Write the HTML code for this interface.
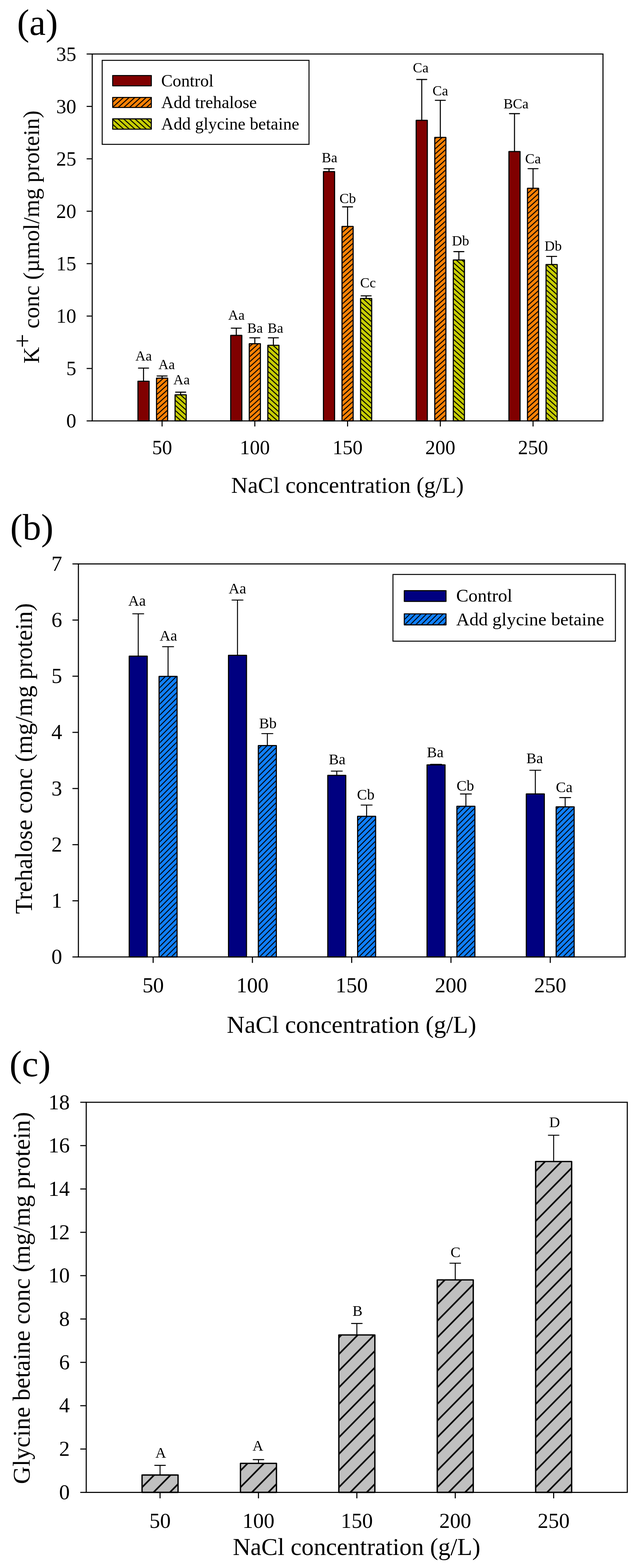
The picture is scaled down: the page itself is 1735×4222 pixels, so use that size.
<!DOCTYPE html>
<html lang="en">
<head>
<meta charset="utf-8">
<title>Figure: K+, trehalose and glycine betaine concentrations versus NaCl concentration</title>
<style>
html,body{margin:0;padding:0;background:#fff;}
body{width:1735px;height:4222px;overflow:hidden;}
svg{display:block;}
svg text{font-family:"Liberation Serif", "Times New Roman", serif;fill:#000;}
</style>
</head>
<body>
<svg width="1735" height="4222" viewBox="0 0 1735 4222">
<defs>
<pattern id="hO" patternUnits="userSpaceOnUse" x="13.34" y="0" width="15.28" height="13.75"><rect x="0" y="0" width="15.28" height="13.75" fill="#FF8205"/><path d="M-15.28,13.75 L15.28,-13.75 M0,13.75 L15.28,0 M0,27.5 L30.56,0" stroke="#000" stroke-width="2.7" fill="none" stroke-linecap="square"/></pattern>
<pattern id="hG" patternUnits="userSpaceOnUse" x="7.84" y="0" width="15.28" height="13.75"><rect x="0" y="0" width="15.28" height="13.75" fill="#C8CE04"/><path d="M-15.28,-13.75 L15.28,13.75 M0,-13.75 L30.56,13.75 M-15.28,0 L15.28,27.5" stroke="#000" stroke-width="2.7" fill="none" stroke-linecap="square"/></pattern>
<pattern id="hB" patternUnits="userSpaceOnUse" x="12" y="0" width="14.86" height="14.83"><rect x="0" y="0" width="14.86" height="14.83" fill="#1080FF"/><path d="M-14.86,14.83 L14.86,-14.83 M0,14.83 L14.86,0 M0,29.66 L29.72,0" stroke="#000" stroke-width="2.5" fill="none" stroke-linecap="square"/></pattern>
<pattern id="hK" patternUnits="userSpaceOnUse" x="2.4" y="0" width="44.18" height="44.8"><rect x="0" y="0" width="44.18" height="44.8" fill="#C0C0C0"/><path d="M-44.18,44.8 L44.18,-44.8 M0,44.8 L44.18,0 M0,89.6 L88.37,0" stroke="#000" stroke-width="4.3" fill="none" stroke-linecap="square"/></pattern>
</defs>
<rect x="0" y="0" width="1735" height="4222" fill="#fff"/>
<line x1="386.7" y1="1026.5" x2="386.7" y2="991.2" stroke="#000" stroke-width="2.8" stroke-linecap="butt"/>
<line x1="373.2" y1="991.2" x2="400.2" y2="991.2" stroke="#000" stroke-width="2.8" stroke-linecap="round"/>
<rect x="371.7" y="1026.5" width="30" height="106.8" fill="#800000" stroke="#000" stroke-width="3" stroke-linejoin="round"/>
<line x1="436.7" y1="1018.2" x2="436.7" y2="1012.4" stroke="#000" stroke-width="2.8" stroke-linecap="butt"/>
<line x1="423.2" y1="1012.4" x2="450.2" y2="1012.4" stroke="#000" stroke-width="2.8" stroke-linecap="round"/>
<rect x="421.7" y="1018.2" width="30" height="115.1" fill="url(#hO)" stroke="#000" stroke-width="3" stroke-linejoin="round"/>
<line x1="486.7" y1="1063" x2="486.7" y2="1056" stroke="#000" stroke-width="2.8" stroke-linecap="butt"/>
<line x1="473.2" y1="1056" x2="500.2" y2="1056" stroke="#000" stroke-width="2.8" stroke-linecap="round"/>
<rect x="471.7" y="1063" width="30" height="70.3" fill="url(#hG)" stroke="#000" stroke-width="3" stroke-linejoin="round"/>
<line x1="636.55" y1="903.1" x2="636.55" y2="883.6" stroke="#000" stroke-width="2.8" stroke-linecap="butt"/>
<line x1="623.05" y1="883.6" x2="650.05" y2="883.6" stroke="#000" stroke-width="2.8" stroke-linecap="round"/>
<rect x="621.55" y="903.1" width="30" height="230.2" fill="#800000" stroke="#000" stroke-width="3" stroke-linejoin="round"/>
<line x1="686.55" y1="925.5" x2="686.55" y2="909.7" stroke="#000" stroke-width="2.8" stroke-linecap="butt"/>
<line x1="673.05" y1="909.7" x2="700.05" y2="909.7" stroke="#000" stroke-width="2.8" stroke-linecap="round"/>
<rect x="671.55" y="925.5" width="30" height="207.8" fill="url(#hO)" stroke="#000" stroke-width="3" stroke-linejoin="round"/>
<line x1="736.55" y1="929.7" x2="736.55" y2="909.7" stroke="#000" stroke-width="2.8" stroke-linecap="butt"/>
<line x1="723.05" y1="909.7" x2="750.05" y2="909.7" stroke="#000" stroke-width="2.8" stroke-linecap="round"/>
<rect x="721.55" y="929.7" width="30" height="203.6" fill="url(#hG)" stroke="#000" stroke-width="3" stroke-linejoin="round"/>
<line x1="886.4" y1="461.9" x2="886.4" y2="454.4" stroke="#000" stroke-width="2.8" stroke-linecap="butt"/>
<line x1="872.9" y1="454.4" x2="899.9" y2="454.4" stroke="#000" stroke-width="2.8" stroke-linecap="round"/>
<rect x="871.4" y="461.9" width="30" height="671.4" fill="#800000" stroke="#000" stroke-width="3" stroke-linejoin="round"/>
<line x1="936.4" y1="609.8" x2="936.4" y2="557" stroke="#000" stroke-width="2.8" stroke-linecap="butt"/>
<line x1="922.9" y1="557" x2="949.9" y2="557" stroke="#000" stroke-width="2.8" stroke-linecap="round"/>
<rect x="921.4" y="609.8" width="30" height="523.5" fill="url(#hO)" stroke="#000" stroke-width="3" stroke-linejoin="round"/>
<line x1="986.4" y1="803.8" x2="986.4" y2="796.7" stroke="#000" stroke-width="2.8" stroke-linecap="butt"/>
<line x1="972.9" y1="796.7" x2="999.9" y2="796.7" stroke="#000" stroke-width="2.8" stroke-linecap="round"/>
<rect x="971.4" y="803.8" width="30" height="329.5" fill="url(#hG)" stroke="#000" stroke-width="3" stroke-linejoin="round"/>
<line x1="1136.25" y1="324" x2="1136.25" y2="214" stroke="#000" stroke-width="2.8" stroke-linecap="butt"/>
<line x1="1122.75" y1="214" x2="1149.75" y2="214" stroke="#000" stroke-width="2.8" stroke-linecap="round"/>
<rect x="1121.25" y="324" width="30" height="809.3" fill="#800000" stroke="#000" stroke-width="3" stroke-linejoin="round"/>
<line x1="1186.25" y1="370" x2="1186.25" y2="270.1" stroke="#000" stroke-width="2.8" stroke-linecap="butt"/>
<line x1="1172.75" y1="270.1" x2="1199.75" y2="270.1" stroke="#000" stroke-width="2.8" stroke-linecap="round"/>
<rect x="1171.25" y="370" width="30" height="763.3" fill="url(#hO)" stroke="#000" stroke-width="3" stroke-linejoin="round"/>
<line x1="1236.25" y1="699.9" x2="1236.25" y2="677.5" stroke="#000" stroke-width="2.8" stroke-linecap="butt"/>
<line x1="1222.75" y1="677.5" x2="1249.75" y2="677.5" stroke="#000" stroke-width="2.8" stroke-linecap="round"/>
<rect x="1221.25" y="699.9" width="30" height="433.4" fill="url(#hG)" stroke="#000" stroke-width="3" stroke-linejoin="round"/>
<line x1="1386.1" y1="408.1" x2="1386.1" y2="306" stroke="#000" stroke-width="2.8" stroke-linecap="butt"/>
<line x1="1372.6" y1="306" x2="1399.6" y2="306" stroke="#000" stroke-width="2.8" stroke-linecap="round"/>
<rect x="1371.1" y="408.1" width="30" height="725.2" fill="#800000" stroke="#000" stroke-width="3" stroke-linejoin="round"/>
<line x1="1436.1" y1="507" x2="1436.1" y2="454.1" stroke="#000" stroke-width="2.8" stroke-linecap="butt"/>
<line x1="1422.6" y1="454.1" x2="1449.6" y2="454.1" stroke="#000" stroke-width="2.8" stroke-linecap="round"/>
<rect x="1421.1" y="507" width="30" height="626.3" fill="url(#hO)" stroke="#000" stroke-width="3" stroke-linejoin="round"/>
<line x1="1486.1" y1="712.2" x2="1486.1" y2="690.4" stroke="#000" stroke-width="2.8" stroke-linecap="butt"/>
<line x1="1472.6" y1="690.4" x2="1499.6" y2="690.4" stroke="#000" stroke-width="2.8" stroke-linecap="round"/>
<rect x="1471.1" y="712.2" width="30" height="421.1" fill="url(#hG)" stroke="#000" stroke-width="3" stroke-linejoin="round"/>
<rect x="248.4" y="145.4" width="1376.1" height="987.9" fill="none" stroke="#000" stroke-width="2.8" stroke-linejoin="miter"/>
<line x1="233.4" y1="1133.3" x2="248.4" y2="1133.3" stroke="#000" stroke-width="2.8" stroke-linecap="butt"/>
<text x="205.5" y="1151.4" font-size="54" text-anchor="end">0</text>
<line x1="233.4" y1="992.17" x2="248.4" y2="992.17" stroke="#000" stroke-width="2.8" stroke-linecap="butt"/>
<text x="205.5" y="1010.27" font-size="54" text-anchor="end">5</text>
<line x1="233.4" y1="851.04" x2="248.4" y2="851.04" stroke="#000" stroke-width="2.8" stroke-linecap="butt"/>
<text x="205.5" y="869.14" font-size="54" text-anchor="end">10</text>
<line x1="233.4" y1="709.91" x2="248.4" y2="709.91" stroke="#000" stroke-width="2.8" stroke-linecap="butt"/>
<text x="205.5" y="728.01" font-size="54" text-anchor="end">15</text>
<line x1="233.4" y1="568.79" x2="248.4" y2="568.79" stroke="#000" stroke-width="2.8" stroke-linecap="butt"/>
<text x="205.5" y="586.89" font-size="54" text-anchor="end">20</text>
<line x1="233.4" y1="427.66" x2="248.4" y2="427.66" stroke="#000" stroke-width="2.8" stroke-linecap="butt"/>
<text x="205.5" y="445.76" font-size="54" text-anchor="end">25</text>
<line x1="233.4" y1="286.53" x2="248.4" y2="286.53" stroke="#000" stroke-width="2.8" stroke-linecap="butt"/>
<text x="205.5" y="304.63" font-size="54" text-anchor="end">30</text>
<line x1="233.4" y1="145.4" x2="248.4" y2="145.4" stroke="#000" stroke-width="2.8" stroke-linecap="butt"/>
<text x="205.5" y="163.5" font-size="54" text-anchor="end">35</text>
<line x1="436.7" y1="1133.3" x2="436.7" y2="1148.3" stroke="#000" stroke-width="2.8" stroke-linecap="butt"/>
<text x="436.7" y="1222.8" font-size="54" text-anchor="middle">50</text>
<line x1="686.55" y1="1133.3" x2="686.55" y2="1148.3" stroke="#000" stroke-width="2.8" stroke-linecap="butt"/>
<text x="686.55" y="1222.8" font-size="54" text-anchor="middle">100</text>
<line x1="936.4" y1="1133.3" x2="936.4" y2="1148.3" stroke="#000" stroke-width="2.8" stroke-linecap="butt"/>
<text x="936.4" y="1222.8" font-size="54" text-anchor="middle">150</text>
<line x1="1186.25" y1="1133.3" x2="1186.25" y2="1148.3" stroke="#000" stroke-width="2.8" stroke-linecap="butt"/>
<text x="1186.25" y="1222.8" font-size="54" text-anchor="middle">200</text>
<line x1="1436.1" y1="1133.3" x2="1436.1" y2="1148.3" stroke="#000" stroke-width="2.8" stroke-linecap="butt"/>
<text x="1436.1" y="1222.8" font-size="54" text-anchor="middle">250</text>
<text x="387" y="971.2" font-size="38" text-anchor="middle">Aa</text>
<text x="448.9" y="993.5" font-size="38" text-anchor="middle">Aa</text>
<text x="489.2" y="1035" font-size="38" text-anchor="middle">Aa</text>
<text x="637" y="860.7" font-size="38" text-anchor="middle">Aa</text>
<text x="687" y="895.6" font-size="38" text-anchor="middle">Ba</text>
<text x="742" y="895.6" font-size="38" text-anchor="middle">Ba</text>
<text x="887.8" y="436.9" font-size="38" text-anchor="middle">Ba</text>
<text x="936.8" y="547" font-size="38" text-anchor="middle">Cb</text>
<text x="991.4" y="773.5" font-size="38" text-anchor="middle">Cc</text>
<text x="1133.4" y="195" font-size="38" text-anchor="middle">Ca</text>
<text x="1186.3" y="256.9" font-size="38" text-anchor="middle">Ca</text>
<text x="1240.7" y="660.5" font-size="38" text-anchor="middle">Db</text>
<text x="1390.2" y="291.8" font-size="38" text-anchor="middle">BCa</text>
<text x="1435.9" y="439.8" font-size="38" text-anchor="middle">Ca</text>
<text x="1490.2" y="674.8" font-size="38" text-anchor="middle">Db</text>
<text x="936" y="1326.5" font-size="62" text-anchor="middle">NaCl concentration (g/L)</text>
<text x="105.3" y="638.2" font-size="61.3" text-anchor="middle" transform="rotate(-90 105.3 638.2)">K<tspan dy="-22.2" dx="-2.4" font-size="67">+</tspan><tspan dy="22.2" dx="-0.8"> conc (µmol/mg protein)</tspan></text>
<text x="46" y="94.4" font-size="99" text-anchor="start">(a)</text>
<rect x="275.3" y="162.5" width="557.2" height="226.2" fill="#fff" stroke="#000" stroke-width="2.6" stroke-linejoin="miter"/>
<rect x="303.6" y="203.3" width="104.1" height="27.8" fill="#800000" stroke="#000" stroke-width="2.8" stroke-linejoin="round"/>
<text x="434.3" y="233" font-size="46.2" text-anchor="start">Control</text>
<rect x="303.6" y="262.3" width="104.1" height="27" fill="url(#hO)" stroke="#000" stroke-width="2.8" stroke-linejoin="round"/>
<text x="434.3" y="290.8" font-size="46.2" text-anchor="start">Add trehalose</text>
<rect x="303.6" y="320" width="104.1" height="27.8" fill="url(#hG)" stroke="#000" stroke-width="2.8" stroke-linejoin="round"/>
<text x="434.3" y="349.1" font-size="46.2" text-anchor="start">Add glycine betaine</text>
<line x1="372.4" y1="1766.7" x2="372.4" y2="1652.7" stroke="#000" stroke-width="2.6" stroke-linecap="butt"/>
<line x1="357.65" y1="1652.7" x2="387.15" y2="1652.7" stroke="#000" stroke-width="2.6" stroke-linecap="round"/>
<rect x="348.15" y="1766.7" width="48.5" height="810" fill="#000080" stroke="#000" stroke-width="3" stroke-linejoin="round"/>
<line x1="452.8" y1="1821.2" x2="452.8" y2="1741.3" stroke="#000" stroke-width="2.6" stroke-linecap="butt"/>
<line x1="438.05" y1="1741.3" x2="467.55" y2="1741.3" stroke="#000" stroke-width="2.6" stroke-linecap="round"/>
<rect x="428.55" y="1821.2" width="48.5" height="755.5" fill="url(#hB)" stroke="#000" stroke-width="3" stroke-linejoin="round"/>
<line x1="639.85" y1="1764.4" x2="639.85" y2="1615.7" stroke="#000" stroke-width="2.6" stroke-linecap="butt"/>
<line x1="625.1" y1="1615.7" x2="654.6" y2="1615.7" stroke="#000" stroke-width="2.6" stroke-linecap="round"/>
<rect x="615.6" y="1764.4" width="48.5" height="812.3" fill="#000080" stroke="#000" stroke-width="3" stroke-linejoin="round"/>
<line x1="720.25" y1="2007.6" x2="720.25" y2="1975.2" stroke="#000" stroke-width="2.6" stroke-linecap="butt"/>
<line x1="705.5" y1="1975.2" x2="735" y2="1975.2" stroke="#000" stroke-width="2.6" stroke-linecap="round"/>
<rect x="696" y="2007.6" width="48.5" height="569.1" fill="url(#hB)" stroke="#000" stroke-width="3" stroke-linejoin="round"/>
<line x1="907.3" y1="2087.8" x2="907.3" y2="2076.2" stroke="#000" stroke-width="2.6" stroke-linecap="butt"/>
<line x1="892.55" y1="2076.2" x2="922.05" y2="2076.2" stroke="#000" stroke-width="2.6" stroke-linecap="round"/>
<rect x="883.05" y="2087.8" width="48.5" height="488.9" fill="#000080" stroke="#000" stroke-width="3" stroke-linejoin="round"/>
<line x1="987.7" y1="2197.9" x2="987.7" y2="2167.7" stroke="#000" stroke-width="2.6" stroke-linecap="butt"/>
<line x1="972.95" y1="2167.7" x2="1002.45" y2="2167.7" stroke="#000" stroke-width="2.6" stroke-linecap="round"/>
<rect x="963.45" y="2197.9" width="48.5" height="378.8" fill="url(#hB)" stroke="#000" stroke-width="3" stroke-linejoin="round"/>
<line x1="1174.75" y1="2059.5" x2="1174.75" y2="2058" stroke="#000" stroke-width="2.6" stroke-linecap="butt"/>
<line x1="1160" y1="2058" x2="1189.5" y2="2058" stroke="#000" stroke-width="2.6" stroke-linecap="round"/>
<rect x="1150.5" y="2059.5" width="48.5" height="517.2" fill="#000080" stroke="#000" stroke-width="3" stroke-linejoin="round"/>
<line x1="1255.15" y1="2171.1" x2="1255.15" y2="2137.9" stroke="#000" stroke-width="2.6" stroke-linecap="butt"/>
<line x1="1240.4" y1="2137.9" x2="1269.9" y2="2137.9" stroke="#000" stroke-width="2.6" stroke-linecap="round"/>
<rect x="1230.9" y="2171.1" width="48.5" height="405.6" fill="url(#hB)" stroke="#000" stroke-width="3" stroke-linejoin="round"/>
<line x1="1442.2" y1="2137.8" x2="1442.2" y2="2074" stroke="#000" stroke-width="2.6" stroke-linecap="butt"/>
<line x1="1427.45" y1="2074" x2="1456.95" y2="2074" stroke="#000" stroke-width="2.6" stroke-linecap="round"/>
<rect x="1417.95" y="2137.8" width="48.5" height="438.9" fill="#000080" stroke="#000" stroke-width="3" stroke-linejoin="round"/>
<line x1="1522.6" y1="2172.5" x2="1522.6" y2="2147.6" stroke="#000" stroke-width="2.6" stroke-linecap="butt"/>
<line x1="1507.85" y1="2147.6" x2="1537.35" y2="2147.6" stroke="#000" stroke-width="2.6" stroke-linecap="round"/>
<rect x="1498.35" y="2172.5" width="48.5" height="404.2" fill="url(#hB)" stroke="#000" stroke-width="3" stroke-linejoin="round"/>
<rect x="211.2" y="1518.4" width="1473.1" height="1058.3" fill="none" stroke="#000" stroke-width="2.9" stroke-linejoin="miter"/>
<line x1="195.2" y1="2576.7" x2="211.2" y2="2576.7" stroke="#000" stroke-width="2.9" stroke-linecap="butt"/>
<text x="167.5" y="2595.2" font-size="57.9" text-anchor="end">0</text>
<line x1="195.2" y1="2425.51" x2="211.2" y2="2425.51" stroke="#000" stroke-width="2.9" stroke-linecap="butt"/>
<text x="167.5" y="2444.01" font-size="57.9" text-anchor="end">1</text>
<line x1="195.2" y1="2274.33" x2="211.2" y2="2274.33" stroke="#000" stroke-width="2.9" stroke-linecap="butt"/>
<text x="167.5" y="2292.83" font-size="57.9" text-anchor="end">2</text>
<line x1="195.2" y1="2123.14" x2="211.2" y2="2123.14" stroke="#000" stroke-width="2.9" stroke-linecap="butt"/>
<text x="167.5" y="2141.64" font-size="57.9" text-anchor="end">3</text>
<line x1="195.2" y1="1971.96" x2="211.2" y2="1971.96" stroke="#000" stroke-width="2.9" stroke-linecap="butt"/>
<text x="167.5" y="1990.46" font-size="57.9" text-anchor="end">4</text>
<line x1="195.2" y1="1820.77" x2="211.2" y2="1820.77" stroke="#000" stroke-width="2.9" stroke-linecap="butt"/>
<text x="167.5" y="1839.27" font-size="57.9" text-anchor="end">5</text>
<line x1="195.2" y1="1669.59" x2="211.2" y2="1669.59" stroke="#000" stroke-width="2.9" stroke-linecap="butt"/>
<text x="167.5" y="1688.09" font-size="57.9" text-anchor="end">6</text>
<line x1="195.2" y1="1518.4" x2="211.2" y2="1518.4" stroke="#000" stroke-width="2.9" stroke-linecap="butt"/>
<text x="167.5" y="1536.9" font-size="57.9" text-anchor="end">7</text>
<line x1="412.6" y1="2576.7" x2="412.6" y2="2592.7" stroke="#000" stroke-width="2.9" stroke-linecap="butt"/>
<text x="412.6" y="2672" font-size="57.9" text-anchor="middle">50</text>
<line x1="680.05" y1="2576.7" x2="680.05" y2="2592.7" stroke="#000" stroke-width="2.9" stroke-linecap="butt"/>
<text x="680.05" y="2672" font-size="57.9" text-anchor="middle">100</text>
<line x1="947.5" y1="2576.7" x2="947.5" y2="2592.7" stroke="#000" stroke-width="2.9" stroke-linecap="butt"/>
<text x="947.5" y="2672" font-size="57.9" text-anchor="middle">150</text>
<line x1="1214.95" y1="2576.7" x2="1214.95" y2="2592.7" stroke="#000" stroke-width="2.9" stroke-linecap="butt"/>
<text x="1214.95" y="2672" font-size="57.9" text-anchor="middle">200</text>
<line x1="1482.4" y1="2576.7" x2="1482.4" y2="2592.7" stroke="#000" stroke-width="2.9" stroke-linecap="butt"/>
<text x="1482.4" y="2672" font-size="57.9" text-anchor="middle">250</text>
<text x="369.2" y="1631.2" font-size="40.5" text-anchor="middle">Aa</text>
<text x="453.6" y="1724.5" font-size="40.5" text-anchor="middle">Aa</text>
<text x="639.7" y="1597.8" font-size="40.5" text-anchor="middle">Aa</text>
<text x="721.7" y="1960.7" font-size="40.5" text-anchor="middle">Bb</text>
<text x="908.3" y="2058" font-size="40.5" text-anchor="middle">Ba</text>
<text x="985.3" y="2153" font-size="40.5" text-anchor="middle">Cb</text>
<text x="1172.6" y="2038.7" font-size="40.5" text-anchor="middle">Ba</text>
<text x="1253.7" y="2128.8" font-size="40.5" text-anchor="middle">Cb</text>
<text x="1440.4" y="2055.2" font-size="40.5" text-anchor="middle">Ba</text>
<text x="1519.9" y="2133" font-size="40.5" text-anchor="middle">Ca</text>
<text x="947.1" y="2781" font-size="66.5" text-anchor="middle">NaCl concentration (g/L)</text>
<text x="86.4" y="2042.5" font-size="65" text-anchor="middle" transform="rotate(-90 86.4 2042.5)">Trehalose conc (mg/mg protein)</text>
<text x="27.5" y="1452.9" font-size="100" text-anchor="start">(b)</text>
<rect x="1058.7" y="1546.8" width="599.3" height="179.6" fill="#fff" stroke="#000" stroke-width="2.6" stroke-linejoin="miter"/>
<rect x="1089.2" y="1590.5" width="112.4" height="28.9" fill="#000080" stroke="#000" stroke-width="2.8" stroke-linejoin="round"/>
<text x="1229" y="1620" font-size="49.5" text-anchor="start">Control</text>
<rect x="1089.2" y="1652.8" width="112.4" height="29.7" fill="url(#hB)" stroke="#000" stroke-width="2.8" stroke-linejoin="round"/>
<text x="1229" y="1684" font-size="49.5" text-anchor="start">Add glycine betaine</text>
<line x1="431.2" y1="3971.6" x2="431.2" y2="3945.6" stroke="#000" stroke-width="2.6" stroke-linecap="butt"/>
<line x1="416.95" y1="3945.6" x2="445.45" y2="3945.6" stroke="#000" stroke-width="2.6" stroke-linecap="round"/>
<rect x="382.7" y="3971.6" width="97" height="46.8" fill="url(#hK)" stroke="#000" stroke-width="3.6" stroke-linejoin="round"/>
<line x1="696.3" y1="3940.3" x2="696.3" y2="3930.1" stroke="#000" stroke-width="2.6" stroke-linecap="butt"/>
<line x1="682.05" y1="3930.1" x2="710.55" y2="3930.1" stroke="#000" stroke-width="2.6" stroke-linecap="round"/>
<rect x="647.8" y="3940.3" width="97" height="78.1" fill="url(#hK)" stroke="#000" stroke-width="3.6" stroke-linejoin="round"/>
<line x1="961.4" y1="3594.5" x2="961.4" y2="3563.6" stroke="#000" stroke-width="2.6" stroke-linecap="butt"/>
<line x1="947.15" y1="3563.6" x2="975.65" y2="3563.6" stroke="#000" stroke-width="2.6" stroke-linecap="round"/>
<rect x="912.9" y="3594.5" width="97" height="423.9" fill="url(#hK)" stroke="#000" stroke-width="3.6" stroke-linejoin="round"/>
<line x1="1226.5" y1="3446.2" x2="1226.5" y2="3401.2" stroke="#000" stroke-width="2.6" stroke-linecap="butt"/>
<line x1="1212.25" y1="3401.2" x2="1240.75" y2="3401.2" stroke="#000" stroke-width="2.6" stroke-linecap="round"/>
<rect x="1178" y="3446.2" width="97" height="572.2" fill="url(#hK)" stroke="#000" stroke-width="3.6" stroke-linejoin="round"/>
<line x1="1491.6" y1="3127.5" x2="1491.6" y2="3056.8" stroke="#000" stroke-width="2.6" stroke-linecap="butt"/>
<line x1="1477.35" y1="3056.8" x2="1505.85" y2="3056.8" stroke="#000" stroke-width="2.6" stroke-linecap="round"/>
<rect x="1443.1" y="3127.5" width="97" height="890.9" fill="url(#hK)" stroke="#000" stroke-width="3.6" stroke-linejoin="round"/>
<rect x="232.3" y="2968" width="1457.7" height="1050.4" fill="none" stroke="#000" stroke-width="2.9" stroke-linejoin="miter"/>
<line x1="216.3" y1="4018.4" x2="232.3" y2="4018.4" stroke="#000" stroke-width="2.9" stroke-linecap="butt"/>
<text x="188" y="4036.9" font-size="57.4" text-anchor="end">0</text>
<line x1="216.3" y1="3901.69" x2="232.3" y2="3901.69" stroke="#000" stroke-width="2.9" stroke-linecap="butt"/>
<text x="188" y="3920.19" font-size="57.4" text-anchor="end">2</text>
<line x1="216.3" y1="3784.98" x2="232.3" y2="3784.98" stroke="#000" stroke-width="2.9" stroke-linecap="butt"/>
<text x="188" y="3803.48" font-size="57.4" text-anchor="end">4</text>
<line x1="216.3" y1="3668.27" x2="232.3" y2="3668.27" stroke="#000" stroke-width="2.9" stroke-linecap="butt"/>
<text x="188" y="3686.77" font-size="57.4" text-anchor="end">6</text>
<line x1="216.3" y1="3551.56" x2="232.3" y2="3551.56" stroke="#000" stroke-width="2.9" stroke-linecap="butt"/>
<text x="188" y="3570.06" font-size="57.4" text-anchor="end">8</text>
<line x1="216.3" y1="3434.84" x2="232.3" y2="3434.84" stroke="#000" stroke-width="2.9" stroke-linecap="butt"/>
<text x="188" y="3453.34" font-size="57.4" text-anchor="end">10</text>
<line x1="216.3" y1="3318.13" x2="232.3" y2="3318.13" stroke="#000" stroke-width="2.9" stroke-linecap="butt"/>
<text x="188" y="3336.63" font-size="57.4" text-anchor="end">12</text>
<line x1="216.3" y1="3201.42" x2="232.3" y2="3201.42" stroke="#000" stroke-width="2.9" stroke-linecap="butt"/>
<text x="188" y="3219.92" font-size="57.4" text-anchor="end">14</text>
<line x1="216.3" y1="3084.71" x2="232.3" y2="3084.71" stroke="#000" stroke-width="2.9" stroke-linecap="butt"/>
<text x="188" y="3103.21" font-size="57.4" text-anchor="end">16</text>
<line x1="216.3" y1="2968" x2="232.3" y2="2968" stroke="#000" stroke-width="2.9" stroke-linecap="butt"/>
<text x="188" y="2986.5" font-size="57.4" text-anchor="end">18</text>
<line x1="431.2" y1="4018.4" x2="431.2" y2="4034.4" stroke="#000" stroke-width="2.9" stroke-linecap="butt"/>
<text x="431.2" y="4113.6" font-size="57.4" text-anchor="middle">50</text>
<line x1="696.3" y1="4018.4" x2="696.3" y2="4034.4" stroke="#000" stroke-width="2.9" stroke-linecap="butt"/>
<text x="696.3" y="4113.6" font-size="57.4" text-anchor="middle">100</text>
<line x1="961.4" y1="4018.4" x2="961.4" y2="4034.4" stroke="#000" stroke-width="2.9" stroke-linecap="butt"/>
<text x="961.4" y="4113.6" font-size="57.4" text-anchor="middle">150</text>
<line x1="1226.5" y1="4018.4" x2="1226.5" y2="4034.4" stroke="#000" stroke-width="2.9" stroke-linecap="butt"/>
<text x="1226.5" y="4113.6" font-size="57.4" text-anchor="middle">200</text>
<line x1="1491.6" y1="4018.4" x2="1491.6" y2="4034.4" stroke="#000" stroke-width="2.9" stroke-linecap="butt"/>
<text x="1491.6" y="4113.6" font-size="57.4" text-anchor="middle">250</text>
<text x="433.1" y="3924.5" font-size="40.3" text-anchor="middle">A</text>
<text x="694.9" y="3906.2" font-size="40.3" text-anchor="middle">A</text>
<text x="963.3" y="3542.8" font-size="40.3" text-anchor="middle">B</text>
<text x="1227.3" y="3384.8" font-size="40.3" text-anchor="middle">C</text>
<text x="1494" y="3035" font-size="40.3" text-anchor="middle">D</text>
<text x="960.7" y="4186.6" font-size="66" text-anchor="middle">NaCl concentration (g/L)</text>
<text x="80" y="3495" font-size="65.6" text-anchor="middle" transform="rotate(-90 80 3495)">Glycine betaine conc (mg/mg protein)</text>
<text x="25.6" y="2898" font-size="100" text-anchor="start">(c)</text>
</svg>
</body>
</html>
